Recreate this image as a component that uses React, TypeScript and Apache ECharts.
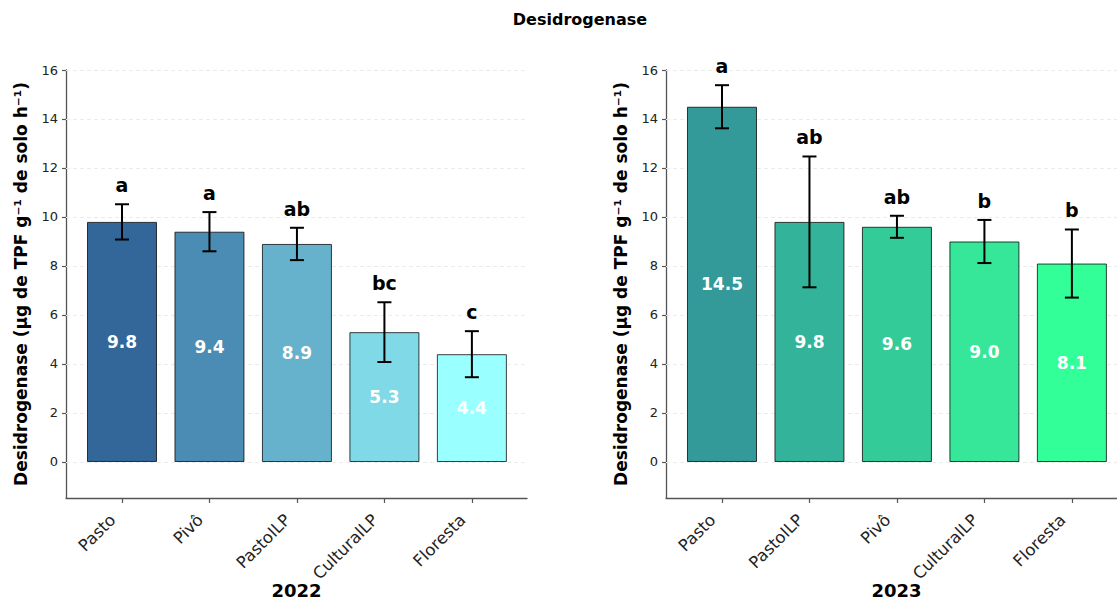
import React, { useEffect, useRef } from "react";
import * as echarts from "echarts";

const FONT = '"DejaVu Sans", "Noto Sans", sans-serif';

// 2022 panel
const CATS_2022 = ["Pasto", "Pivô", "PastoILP", "CulturalLP", "Floresta"];
const MEAN_2022 = [9.8, 9.4, 8.9, 5.3, 4.4];
const ERR_2022 = [0.72, 0.8, 0.66, 1.22, 0.94];
const LETTERS_2022 = ["a", "a", "ab", "bc", "c"];
const COLORS_2022 = ["#336699", "#4a8cb3", "#66b2cc", "#80d9e6", "#99ffff"];

// 2023 panel
const CATS_2023 = ["Pasto", "PastoILP", "Pivô", "CulturalLP", "Floresta"];
const MEAN_2023 = [14.5, 9.8, 9.6, 9.0, 8.1];
const ERR_2023 = [0.88, 2.67, 0.45, 0.88, 1.39];
const LETTERS_2023 = ["a", "ab", "ab", "b", "b"];
const COLORS_2023 = ["#339999", "#33b399", "#33cc99", "#36e699", "#33ff99"];

const Y_TICKS = [0, 2, 4, 6, 8, 10, 12, 14, 16];
const Y_MIN = -1.47;
const Y_MAX = 16;
const X_MIN = -0.64;
const X_MAX = 4.63;
const Y_TITLE = "Desidrogenase (µg de TPF g⁻¹ de solo h⁻¹)";

function buildPanel(
  idx: number,
  cats: string[],
  means: number[],
  errs: number[],
  letters: string[],
  colors: string[],
  year: string,
  left: number,
  right: number
) {
  const grid = { left, right, top: 70, bottom: 101, containLabel: false, outerBoundsMode: "none" };
  const xAxis = {
    type: "value",
    gridIndex: idx,
    min: X_MIN,
    max: X_MAX,
    name: year,
    nameLocation: "middle",
    nameGap: 83,
    nameMoveOverlap: false,
    nameTextStyle: { fontFamily: FONT, fontSize: 18, fontWeight: "bold", color: "#000" },
    axisLine: { show: true, onZero: false, lineStyle: { color: "#555", width: 1.3 } },
    axisTick: { show: true, length: 5, customValues: [0, 1, 2, 3, 4], lineStyle: { color: "#555", width: 1.2 } },
    axisLabel: {
      customValues: [0, 1, 2, 3, 4],
      formatter: (v: number) => cats[Math.round(v)] ?? "",
      rotate: 45,
      margin: 10,
      padding: [0, 13, 0, 0],
      fontFamily: FONT,
      fontSize: 16.5,
      color: "#222",
    },
    splitLine: { show: false },
  };
  const yAxis = {
    type: "value",
    gridIndex: idx,
    min: Y_MIN,
    max: Y_MAX,
    name: Y_TITLE,
    nameLocation: "middle",
    nameGap: 37,
    nameMoveOverlap: false,
    nameTextStyle: { fontFamily: FONT, fontSize: 17, fontWeight: "bold", color: "#000" },
    axisLine: { show: true, onZero: false, lineStyle: { color: "#555", width: 1.3 } },
    axisTick: { show: true, length: 4, customValues: Y_TICKS, lineStyle: { color: "#555", width: 1.2 } },
    axisLabel: {
      customValues: Y_TICKS,
      formatter: (v: number) => String(Math.round(v)),
      margin: 8,
      fontFamily: FONT,
      fontSize: 13,
      color: "#222",
    },
    splitLine: { show: false },
  };
  const series = [
    {
      type: "line",
      xAxisIndex: idx,
      yAxisIndex: idx,
      data: [],
      silent: true,
      z: 1,
      markLine: {
        silent: true,
        z: 1,
        symbol: "none",
        label: { show: false },
        lineStyle: { type: [4, 3], color: "#ebebeb", width: 1 },
        data: Y_TICKS.map((v) => ({ yAxis: v })),
      },
    },
    {
      type: "bar",
      xAxisIndex: idx,
      yAxisIndex: idx,
      barWidth: 70,
      z: 2,
      data: means.map((v, i) => ({ value: [i, v], itemStyle: { color: colors[i] } })),
      itemStyle: { borderColor: "rgba(0,0,0,0.75)", borderWidth: 1 },
      label: {
        show: true,
        position: "inside",
        formatter: (p: any) => Number(p.value[1]).toFixed(1),
        color: "#fff",
        fontFamily: FONT,
        fontWeight: "bold",
        fontSize: 17,
      },
    },
    {
      type: "custom",
      xAxisIndex: idx,
      yAxisIndex: idx,
      z: 3,
      clip: false,
      data: means.map((v, i) => [i, v, errs[i]]),
      renderItem: (params: any, api: any) => {
        const x = api.value(0);
        const m = api.value(1);
        const e = api.value(2);
        const top = api.coord([x, m + e]);
        const bot = api.coord([x, m - e]);
        const cap = 7;
        const ls = { stroke: "#000", lineWidth: 2 };
        return {
          type: "group",
          children: [
            { type: "line", shape: { x1: top[0], y1: top[1], x2: bot[0], y2: bot[1] }, style: ls },
            { type: "line", shape: { x1: top[0] - cap, y1: top[1], x2: top[0] + cap, y2: top[1] }, style: ls },
            { type: "line", shape: { x1: bot[0] - cap, y1: bot[1], x2: bot[0] + cap, y2: bot[1] }, style: ls },
            {
              type: "text",
              x: top[0],
              y: top[1] - 9.5,
              style: {
                text: letters[params.dataIndex],
                fill: "#000",
                font: `bold 19px ${FONT}`,
                align: "center",
                verticalAlign: "bottom",
              },
            },
          ],
        };
      },
    },
  ];
  return { grid, xAxis, yAxis, series };
}

export default function App() {
  const ref = useRef<HTMLDivElement>(null);
  useEffect(() => {
    if (!ref.current) return;
    const chart = echarts.init(ref.current, undefined, { renderer: "svg" });
    const p1 = buildPanel(0, CATS_2022, MEAN_2022, ERR_2022, LETTERS_2022, COLORS_2022, "2022", 66, 590);
    const p2 = buildPanel(1, CATS_2023, MEAN_2023, ERR_2023, LETTERS_2023, COLORS_2023, "2023", 666, -10);
    chart.setOption({
      animation: false,
      backgroundColor: "#fff",
      grid: [p1.grid, p2.grid],
      xAxis: [p1.xAxis, p2.xAxis],
      yAxis: [p1.yAxis, p2.yAxis],
      series: [...p1.series, ...p2.series],
      graphic: [
        {
          type: "text",
          x: 580,
          y: 19,
          style: {
            text: "Desidrogenase",
            font: `bold 16px ${FONT}`,
            fill: "#000",
            align: "center",
            verticalAlign: "middle",
          },
        },
      ],
    });
    return () => chart.dispose();
  }, []);
  return (
    <div
      ref={ref}
      style={{ position: "fixed", left: 0, top: 0, width: 1117, height: 599, background: "#fff" }}
    />
  );
}
